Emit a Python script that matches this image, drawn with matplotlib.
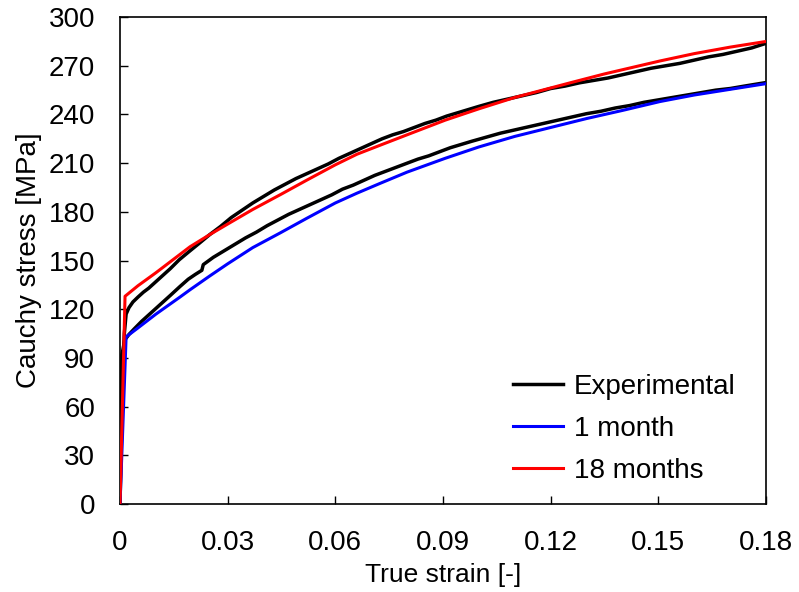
import matplotlib
matplotlib.use('Agg')
import matplotlib.pyplot as plt

plt.rcParams['font.family'] = ['Liberation Sans', 'DejaVu Sans']

# experimental curve, upper (18 months sample)
exp_hi_x = [0, 0.0004, 0.0008, 0.0012, 0.0017, 0.0025, 0.0036, 0.005, 0.0065, 0.008, 0.010, 0.012,
            0.014, 0.0165, 0.0195, 0.022, 0.025, 0.028, 0.031, 0.034, 0.037, 0.040, 0.043,
            0.046, 0.049, 0.052, 0.055, 0.058, 0.061, 0.064, 0.067, 0.070, 0.073, 0.076,
            0.079, 0.082, 0.085, 0.088, 0.091, 0.094, 0.097, 0.100, 0.104, 0.108, 0.112,
            0.116, 0.120, 0.124, 0.128, 0.132, 0.136, 0.140, 0.144, 0.148, 0.152, 0.156,
            0.160, 0.164, 0.168, 0.172, 0.176, 0.1795]
exp_hi_y = [0, 40, 80, 105, 117, 121, 124.5, 127.5, 130.5, 133, 137, 141,
            145, 150.5, 156, 160.5, 166, 171, 176.5, 181, 185.5, 189.5, 193.5,
            197, 200.5, 203.5, 206.5, 209.5, 213, 216, 219, 222, 225, 227.5,
            229.5, 232, 234.5, 236.5, 239, 241, 243, 245, 247.5, 249.5, 251.5,
            253.5, 256, 257.5, 259.5, 261, 262.5, 264.5, 266.5, 268.5, 270, 271.5,
            273.5, 275.5, 277, 279, 281, 283.5]

# experimental curve, lower (1 month sample)
exp_lo_x = [0, 0.0003, 0.0005, 0.0008, 0.0013, 0.0025, 0.004, 0.006, 0.008, 0.010, 0.012, 0.014,
            0.0167, 0.019, 0.021, 0.0228, 0.0232, 0.026, 0.029, 0.032, 0.035, 0.038, 0.041,
            0.044, 0.047, 0.050, 0.053, 0.056, 0.059, 0.062, 0.065, 0.068, 0.071, 0.074,
            0.077, 0.080, 0.083, 0.086, 0.089, 0.092, 0.095, 0.098, 0.102, 0.106, 0.110,
            0.114, 0.118, 0.122, 0.126, 0.130, 0.134, 0.138, 0.142, 0.146, 0.150, 0.154,
            0.158, 0.162, 0.166, 0.170, 0.174, 0.1795]
exp_lo_y = [0, 55, 92, 95, 101, 104.5, 108, 112.5, 116.5, 120.5, 124.5, 128.5,
            134, 138.5, 141.5, 144, 147.5, 152, 156, 160, 164, 167.5, 171.5,
            175, 178.5, 181.5, 184.5, 187.5, 190.5, 194, 196.5, 199.5, 202.5, 205,
            207.5, 210, 212.5, 214.5, 217, 219.5, 221.5, 223.5, 226, 228.5, 230.5,
            232.5, 234.5, 236.5, 238.5, 240.5, 242, 244, 245.5, 247.5, 249, 250.5,
            252, 253.5, 255, 256, 257.5, 259.5]

# model, 1 month
m1_x = [0, 0.0017, 0.005, 0.010, 0.0167, 0.0195, 0.025, 0.030, 0.037, 0.0446, 0.052, 0.060,
        0.066, 0.0724, 0.080, 0.0906, 0.100, 0.110, 0.120, 0.130, 0.140, 0.1505, 0.160,
        0.170, 0.180]
m1_y = [0, 103, 108.5, 117, 127.5, 132, 140.5, 148, 158, 167, 176, 185.5,
        191.5, 197.5, 204.5, 213, 220, 226.5, 232, 237.5, 242.5, 248, 252,
        255.5, 259]

# model, 18 months
m18_x = [0, 0.0014, 0.005, 0.010, 0.0195, 0.025, 0.030, 0.037, 0.045, 0.052, 0.060, 0.066,
         0.0724, 0.080, 0.0906, 0.100, 0.110, 0.1254, 0.135, 0.1505, 0.160, 0.170, 0.180]
m18_y = [0, 128, 134.5, 142.5, 158.5, 166, 172.5, 181.5, 191, 199.5, 209, 215.5,
         221, 227.5, 236.5, 243.5, 250.5, 259.5, 265, 273, 277.5, 281.5, 285]

x_ticks = [0, 0.03, 0.06, 0.09, 0.12, 0.15, 0.18]
x_tick_labels = ['0', '0.03', '0.06', '0.09', '0.12', '0.15', '0.18']
y_ticks = [0, 30, 60, 90, 120, 150, 180, 210, 240, 270, 300]

fig = plt.figure(figsize=(7.99, 5.92), dpi=100)
ax = fig.add_axes([0.1502, 0.1486, 0.8085, 0.8225])

ax.plot(exp_hi_x, exp_hi_y, color='black', lw=2.5, label='Experimental', zorder=3)
ax.plot(exp_lo_x, exp_lo_y, color='black', lw=2.5, zorder=3)
ax.plot(m1_x, m1_y, color='blue', lw=2.2, label='1 month', zorder=4)
ax.plot(m18_x, m18_y, color='red', lw=2.2, label='18 months', zorder=4)

ax.set_xlim(0, 0.18)
ax.set_ylim(0, 300)
ax.set_xticks(x_ticks)
ax.set_xticklabels(x_tick_labels)
ax.set_yticks(y_ticks)
ax.tick_params(direction='in', length=6, width=1, labelsize=20, top=False, right=False)
ax.tick_params(axis='y', pad=18)
ax.tick_params(axis='x', pad=19)
for s in ax.spines.values():
    s.set_linewidth(1.2)

ax.set_xlabel('True strain [-]', fontsize=19, labelpad=5)
ax.set_ylabel('Cauchy stress [MPa]', fontsize=20, labelpad=5)

ax.legend(loc='upper left', bbox_to_anchor=(0.642, 0.369), bbox_transform=fig.transFigure,
          frameon=False, fontsize=20, handlelength=1.8, handletextpad=0.4,
          labelspacing=0.58, borderpad=0, borderaxespad=0)

fig.savefig('out.png', dpi=100)
